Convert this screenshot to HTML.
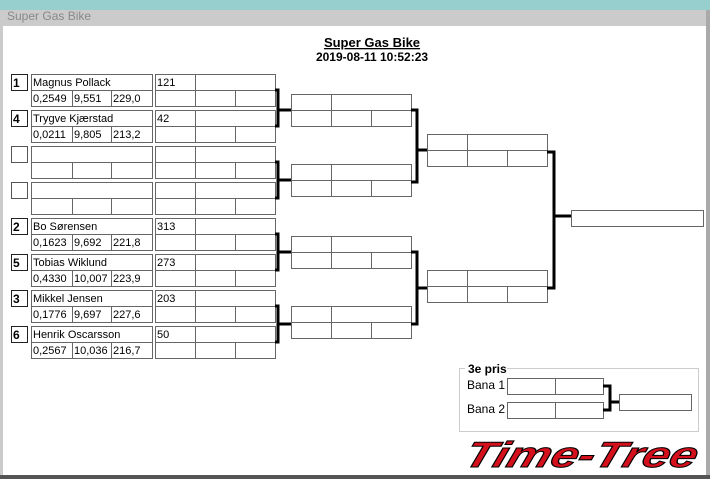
<!DOCTYPE html><html><head><style>body{margin:0;width:710px;height:479px;overflow:hidden;background:#fff;font-family:"Liberation Sans",sans-serif}</style></head><body>
<svg width="710" height="479" xmlns="http://www.w3.org/2000/svg" font-family="Liberation Sans, sans-serif" font-size="11">
<rect x="0" y="0" width="710" height="479" fill="#fff"/>
<rect x="0" y="0" width="710" height="10" fill="#97cfcf"/>
<rect x="0" y="10" width="710" height="16" fill="#cbcbcb"/>
<text x="7" y="20" fill="#888" font-size="12">Super Gas Bike</text>
<rect x="0" y="10" width="3" height="469" fill="#cbcbcb"/>
<rect x="706" y="10" width="4" height="469" fill="#aaa"/>
<rect x="0" y="475" width="710" height="4" fill="#555"/>
<text x="372" y="47" text-anchor="middle" font-weight="bold" font-size="13" text-decoration="underline">Super Gas Bike</text>
<text x="372" y="61" text-anchor="middle" font-weight="bold" font-size="12">2019-08-11 10:52:23</text>
<g fill="none" stroke="#666" stroke-width="1">
<defs><g id="e"><rect x="31.5" y=".5" width="121" height="16"/><rect x="31.5" y="16.5" width="121" height="16"/><line x1="72.5" y1="16" x2="72.5" y2="32"/><line x1="111.5" y1="16" x2="111.5" y2="32"/><rect x="155.5" y=".5" width="120" height="16"/><rect x="155.5" y="16.5" width="120" height="16"/><line x1="195.5" y1="0" x2="195.5" y2="32"/><line x1="235.5" y1="16" x2="235.5" y2="32"/></g>
<g id="r"><rect x=".5" y=".5" width="120" height="16"/><rect x=".5" y="16.5" width="120" height="16"/><line x1="40.5" y1="0" x2="40.5" y2="32"/><line x1="80.5" y1="16" x2="80.5" y2="32"/></g></defs>
<use href="#e" y="74"/><use href="#e" y="110"/><use href="#e" y="146"/><use href="#e" y="182"/><use href="#e" y="218"/><use href="#e" y="254"/><use href="#e" y="290"/><use href="#e" y="326"/>
<use href="#r" x="291" y="94"/><use href="#r" x="291" y="164"/><use href="#r" x="291" y="236"/><use href="#r" x="291" y="306"/>
<use href="#r" x="427" y="134"/><use href="#r" x="427" y="270"/>
<rect x="571.5" y="210.5" width="132" height="16"/>
<rect x="507.5" y="378.5" width="96" height="16"/><line x1="555.5" y1="378" x2="555.5" y2="394"/>
<rect x="507.5" y="402.5" width="96" height="16"/><line x1="555.5" y1="402" x2="555.5" y2="418"/>
<rect x="619.5" y="394.5" width="72" height="16"/>
</g>
<g fill="none" stroke="#222" stroke-width="1">
<rect x="11.5" y="74.5" width="16" height="16"/><rect x="11.5" y="110.5" width="16" height="16"/><rect x="11.5" y="146.5" width="16" height="16" stroke="#555"/><rect x="11.5" y="182.5" width="16" height="16" stroke="#555"/><rect x="11.5" y="218.5" width="16" height="16"/><rect x="11.5" y="254.5" width="16" height="16"/><rect x="11.5" y="290.5" width="16" height="16"/><rect x="11.5" y="326.5" width="16" height="16"/>
</g>
<rect x="459.5" y="368.5" width="239" height="63" fill="none" stroke="#ccc"/>
<rect x="465" y="362" width="42" height="12" fill="#fff"/>
<g fill="none" stroke="#000" stroke-width="3">
<path d="M275 90H278V126H275M278 110H291"/>
<path d="M275 162H278V198H275M278 180H291"/>
<path d="M275 234H278V270H275M278 252H291"/>
<path d="M275 306H278V342H275M278 324H291"/>
<path d="M411 110H417V182H411M417 150H427"/>
<path d="M411 252H417V324H411M417 288H427"/>
<path d="M547 152H554V288H547M554 216H571"/>
<path d="M603 386H610V410H603M610 402H619"/>
</g>
<g font-weight="bold" font-size="12"><text x="13" y="87">1</text><text x="13" y="123">4</text><text x="13" y="231">2</text><text x="13" y="267">5</text><text x="13" y="303">3</text><text x="13" y="339">6</text></g>
<g>
<text x="33" y="86">Magnus Pollack</text><text x="33" y="102">0,2549</text><text x="74" y="102">9,551</text><text x="113" y="102">229,0</text><text x="157" y="86">121</text>
<text x="33" y="122">Trygve Kjærstad</text><text x="33" y="138">0,0211</text><text x="74" y="138">9,805</text><text x="113" y="138">213,2</text><text x="157" y="122">42</text>
<text x="33" y="230">Bo  Sørensen</text><text x="33" y="246">0,1623</text><text x="74" y="246">9,692</text><text x="113" y="246">221,8</text><text x="157" y="230">313</text>
<text x="33" y="266">Tobias Wiklund</text><text x="33" y="282">0,4330</text><text x="74" y="282">10,007</text><text x="113" y="282">223,9</text><text x="157" y="266">273</text>
<text x="33" y="302">Mikkel Jensen</text><text x="33" y="318">0,1776</text><text x="74" y="318">9,697</text><text x="113" y="318">227,6</text><text x="157" y="302">203</text>
<text x="33" y="338">Henrik Oscarsson</text><text x="33" y="354">0,2567</text><text x="74" y="354">10,036</text><text x="113" y="354">216,7</text><text x="157" y="338">50</text>
<text x="468" y="373" font-weight="bold" font-size="12">3e pris</text>
<text x="467" y="389" font-size="12">Bana 1</text><text x="467" y="413" font-size="12">Bana 2</text>
</g>
<text x="462" y="467" font-size="36" font-weight="bold" font-style="italic" fill="#d4101c" stroke="#000" stroke-width="1" transform="skewX(-18)" transform-origin="462 467" textLength="232" lengthAdjust="spacingAndGlyphs">Time-Tree</text>
</svg>
</body></html>
